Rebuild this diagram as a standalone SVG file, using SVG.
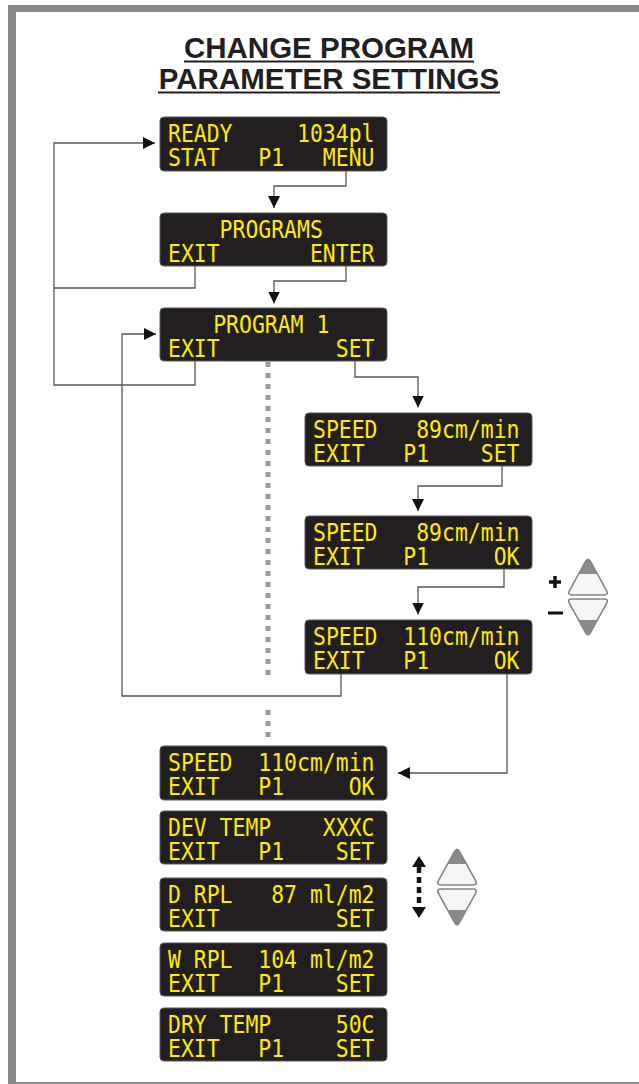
<svg xmlns="http://www.w3.org/2000/svg" width="639" height="1084" viewBox="0 0 639 1084">
<style>
.lcd rect{fill:#231f20;stroke:#58595b;stroke-width:1}
.lcd text{font-family:"DejaVu Sans Mono",monospace;font-size:24px;fill:#ffec00;white-space:pre}
.conn{fill:none;stroke:#555;stroke-width:1.3}
.title{font-family:"Liberation Sans",Arial,sans-serif;font-weight:bold;font-size:29.5px;fill:#231f20;text-anchor:middle}
.dots{fill:none;stroke:#999;stroke-width:5;stroke-dasharray:5 6}
.frame{fill:#8a8a8a}
</style>
<defs>
<marker id="ah" markerUnits="userSpaceOnUse" markerWidth="13" markerHeight="12" refX="12" refY="6" orient="auto"><path d="M0,0 L12,6 L0,12 z" fill="#111"/></marker>
<linearGradient id="gUp" x1="0" y1="0" x2="0" y2="1"><stop offset="0.42" stop-color="#8a8a8a"/><stop offset="0.42" stop-color="#f6f6f6"/></linearGradient>
<linearGradient id="gDn" x1="0" y1="0" x2="0" y2="1"><stop offset="0.6" stop-color="#f6f6f6"/><stop offset="0.6" stop-color="#8a8a8a"/></linearGradient>
<g id="btn">
<path d="M-2.42,4.38 Q0,0 2.42,4.38 L18.58,33.62 Q21,38 16,38 L-16,38 Q-21,38 -18.58,33.62 Z" fill="url(#gUp)" stroke="#858585" stroke-width="1.6"/>
<path d="M-2.42,75.62 Q0,80 2.42,75.62 L18.58,46.38 Q21,42 16,42 L-16,42 Q-21,42 -18.58,46.38 Z" fill="url(#gDn)" stroke="#858585" stroke-width="1.6"/>
</g>
</defs>

<g id="frame">
<rect class="frame" x="8" y="5" width="631" height="7"/>
<rect class="frame" x="8" y="5" width="8" height="1079"/>
<rect class="frame" x="8" y="1082" width="631" height="2"/>
</g>

<g id="title">
<text class="title" x="329" y="58">CHANGE PROGRAM</text>
<text class="title" x="329" y="89">PARAMETER SETTINGS</text>
<path d="M184,61.5 H474 M158,92.5 H500" stroke="#231f20" stroke-width="2"/>
</g>

<g id="dotted">
<path class="dots" d="M268,362 V680 M268,710 V738"/>
</g>

<g id="connectors">
<path class="conn" d="M346,171 V186 H274 V208" marker-end="url(#ah)"/>
<path class="conn" d="M346,266 V281 H274 V303.5" marker-end="url(#ah)"/>
<path class="conn" d="M195,266 V288 H54"/>
<path class="conn" d="M195,361 V385 H54 V143 H155" marker-end="url(#ah)"/>
<path class="conn" d="M355,361 V377 H418 V407.5" marker-end="url(#ah)"/>
<path class="conn" d="M502,466 V486 H418 V511" marker-end="url(#ah)"/>
<path class="conn" d="M504,568 V587 H418 V614.5" marker-end="url(#ah)"/>
<path class="conn" d="M341,674 V696 H122 V334 H156" marker-end="url(#ah)"/>
<path class="conn" d="M507,674 V773 H398" marker-end="url(#ah)"/>
</g>

<g id="lcd-ready" class="lcd">
<rect x="160" y="117" width="227" height="54" rx="4"/>
<text transform="translate(168,142) scale(0.893,1)" xml:space="preserve"><tspan x="0" y="0">READY     1034pl</tspan><tspan x="0" y="24">STAT   P1   MENU</tspan></text>
</g>

<g id="lcd-programs" class="lcd">
<rect x="160" y="213" width="227" height="53" rx="4"/>
<text transform="translate(168,238) scale(0.893,1)" xml:space="preserve"><tspan x="0" y="0">    PROGRAMS</tspan><tspan x="0" y="24">EXIT       ENTER</tspan></text>
</g>

<g id="lcd-program1" class="lcd">
<rect x="160" y="308" width="227" height="53" rx="4"/>
<text transform="translate(168,333) scale(0.893,1)" xml:space="preserve"><tspan x="50.6" y="0">PROGRAM 1</tspan><tspan x="0" y="24">EXIT         SET</tspan></text>
</g>

<g id="lcd-speed-set" class="lcd">
<rect x="305" y="413" width="227" height="53" rx="4"/>
<text transform="translate(313,438) scale(0.893,1)" xml:space="preserve"><tspan x="0" y="0">SPEED   89cm/min</tspan><tspan x="0" y="24">EXIT   P1    SET</tspan></text>
</g>

<g id="lcd-speed-ok89" class="lcd">
<rect x="305" y="516" width="227" height="53" rx="4"/>
<text transform="translate(313,541) scale(0.893,1)" xml:space="preserve"><tspan x="0" y="0">SPEED   89cm/min</tspan><tspan x="0" y="24">EXIT   P1     OK</tspan></text>
</g>

<g id="lcd-speed-ok110" class="lcd">
<rect x="305" y="620" width="227" height="54" rx="4"/>
<text transform="translate(313,645) scale(0.893,1)" xml:space="preserve"><tspan x="0" y="0">SPEED  110cm/min</tspan><tspan x="0" y="24">EXIT   P1     OK</tspan></text>
</g>

<g id="lcd-speed-saved" class="lcd">
<rect x="160" y="746" width="227" height="54" rx="4"/>
<text transform="translate(168,771) scale(0.893,1)" xml:space="preserve"><tspan x="0" y="0">SPEED  110cm/min</tspan><tspan x="0" y="24">EXIT   P1     OK</tspan></text>
</g>

<g id="lcd-devtemp" class="lcd">
<rect x="160" y="811" width="227" height="53" rx="4"/>
<text transform="translate(168,836) scale(0.893,1)" xml:space="preserve"><tspan x="0" y="0">DEV TEMP    XXXC</tspan><tspan x="0" y="24">EXIT   P1    SET</tspan></text>
</g>

<g id="lcd-drpl" class="lcd">
<rect x="160" y="878" width="227" height="53" rx="4"/>
<text transform="translate(168,903) scale(0.893,1)" xml:space="preserve"><tspan x="0" y="0">D RPL   87 ml/m2</tspan><tspan x="0" y="24">EXIT         SET</tspan></text>
</g>

<g id="lcd-wrpl" class="lcd">
<rect x="160" y="943" width="227" height="53" rx="4"/>
<text transform="translate(168,968) scale(0.893,1)" xml:space="preserve"><tspan x="0" y="0">W RPL  104 ml/m2</tspan><tspan x="0" y="24">EXIT   P1    SET</tspan></text>
</g>

<g id="lcd-drytemp" class="lcd">
<rect x="160" y="1008" width="227" height="53" rx="4"/>
<text transform="translate(168,1033) scale(0.893,1)" xml:space="preserve"><tspan x="0" y="0">DRY TEMP     50C</tspan><tspan x="0" y="24">EXIT   P1    SET</tspan></text>
</g>

<g id="plus-minus-buttons">
<use href="#btn" x="588" y="557"/>
<path d="M549,582 H561 M555,576 V588" stroke="#111" stroke-width="3.5"/>
<path d="M548,613 H563" stroke="#111" stroke-width="3"/>
</g>

<g id="scroll-buttons">
<use href="#btn" x="457" y="847"/>
<path d="M419,856 L426,867 L412,867 Z M419,918 L426,907 L412,907 Z" fill="#111"/>
<path d="M419,867 V907" stroke="#111" stroke-width="4.5" stroke-dasharray="6 4"/>
</g>
</svg>
